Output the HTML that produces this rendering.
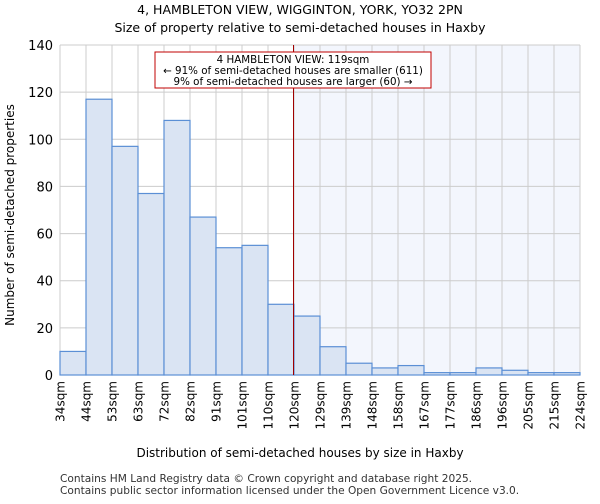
<!DOCTYPE html>
<html><head><meta charset="utf-8"><style>
body{margin:0;background:#fff;font-family:"DejaVu Sans","Liberation Sans",sans-serif;}
</style></head><body>
<svg width="600" height="500" xmlns="http://www.w3.org/2000/svg" font-family="DejaVu Sans, Liberation Sans, sans-serif">
<text x="300" y="14" text-anchor="middle" font-size="12.5">4, HAMBLETON VIEW, WIGGINTON, YORK, YO32 2PN</text>
<text x="300" y="32" text-anchor="middle" font-size="12.5">Size of property relative to semi-detached houses in Haxby</text>
<rect x="293" y="45" width="287" height="330" fill="#f3f6fd"/>
<g id="grid"></g>
<g id="bars"></g>
<g id="yticks"></g>
<g id="xticks"></g>
<line x1="293.5" y1="45" x2="293.5" y2="375" stroke="#a00000" stroke-width="1"/>
<rect x="155" y="52" width="276" height="36" fill="#fff" stroke="#c00000"/>
<text x="293" y="63" text-anchor="middle" font-size="10.3">4 HAMBLETON VIEW: 119sqm</text>
<text x="293" y="74" text-anchor="middle" font-size="10.3">← 91% of semi-detached houses are smaller (611)</text>
<text x="293" y="85" text-anchor="middle" font-size="10.3">9% of semi-detached houses are larger (60) →</text>
<text x="14" y="215" text-anchor="middle" font-size="12" transform="rotate(-90 14 215)">Number of semi-detached properties</text>
<text x="300" y="457" text-anchor="middle" font-size="12">Distribution of semi-detached houses by size in Haxby</text>
<text x="60" y="482" font-size="10.6" fill="#333">Contains HM Land Registry data © Crown copyright and database right 2025.</text>
<text x="60" y="494" font-size="10.6" fill="#333">Contains public sector information licensed under the Open Government Licence v3.0.</text>
</svg>
<script>
const categories=["34sqm","44sqm","53sqm","63sqm","72sqm","82sqm","91sqm","101sqm","110sqm","120sqm","129sqm","139sqm","148sqm","158sqm","167sqm","177sqm","186sqm","196sqm","205sqm","215sqm","224sqm"];
const counts=[10,117,97,77,108,67,54,55,30,25,12,5,3,4,1,1,3,2,1,1];
const yTicks=[0,20,40,60,80,100,120,140];
const NS="http://www.w3.org/2000/svg";
const L=60,R=580,T=45,B=375,YMAX=140;
const bw=(R-L)/counts.length;
const xs=i=>L+i*bw;
const ys=v=>B-v/YMAX*(B-T);
function mk(tag,attrs,parent){const e=document.createElementNS(NS,tag);for(const k in attrs)e.setAttribute(k,attrs[k]);document.getElementById(parent).appendChild(e);return e;}
yTicks.forEach(v=>{
 const g=mk('line',{x1:L,x2:R,y1:ys(v),y2:ys(v),stroke:'#cccccc'},'grid');
 
 
 const t=mk('text',{x:L-7,y:ys(v)+5,'text-anchor':'end','font-size':'13'},'yticks');
 t.textContent=v;
 
 
});
categories.forEach((c,i)=>{
 const g=mk('line',{x1:xs(i),x2:xs(i),y1:T,y2:B,stroke:'#cccccc'},'grid');
 
 
 const x=xs(i)+4.5,y=B+6;
 const t=mk('text',{x:x,y:y,'text-anchor':'end','font-size':'12',transform:`rotate(-90 ${x} ${y})`},'xticks');
 t.textContent=c;
 
 
});
counts.forEach((v,i)=>{
 const r=mk('rect',{x:xs(i),y:ys(v),width:bw,height:B-ys(v),fill:'#dae4f3',stroke:'#5b8fd5','stroke-width':'1.2'},'bars');
 
 
});
</script>
</body></html>
